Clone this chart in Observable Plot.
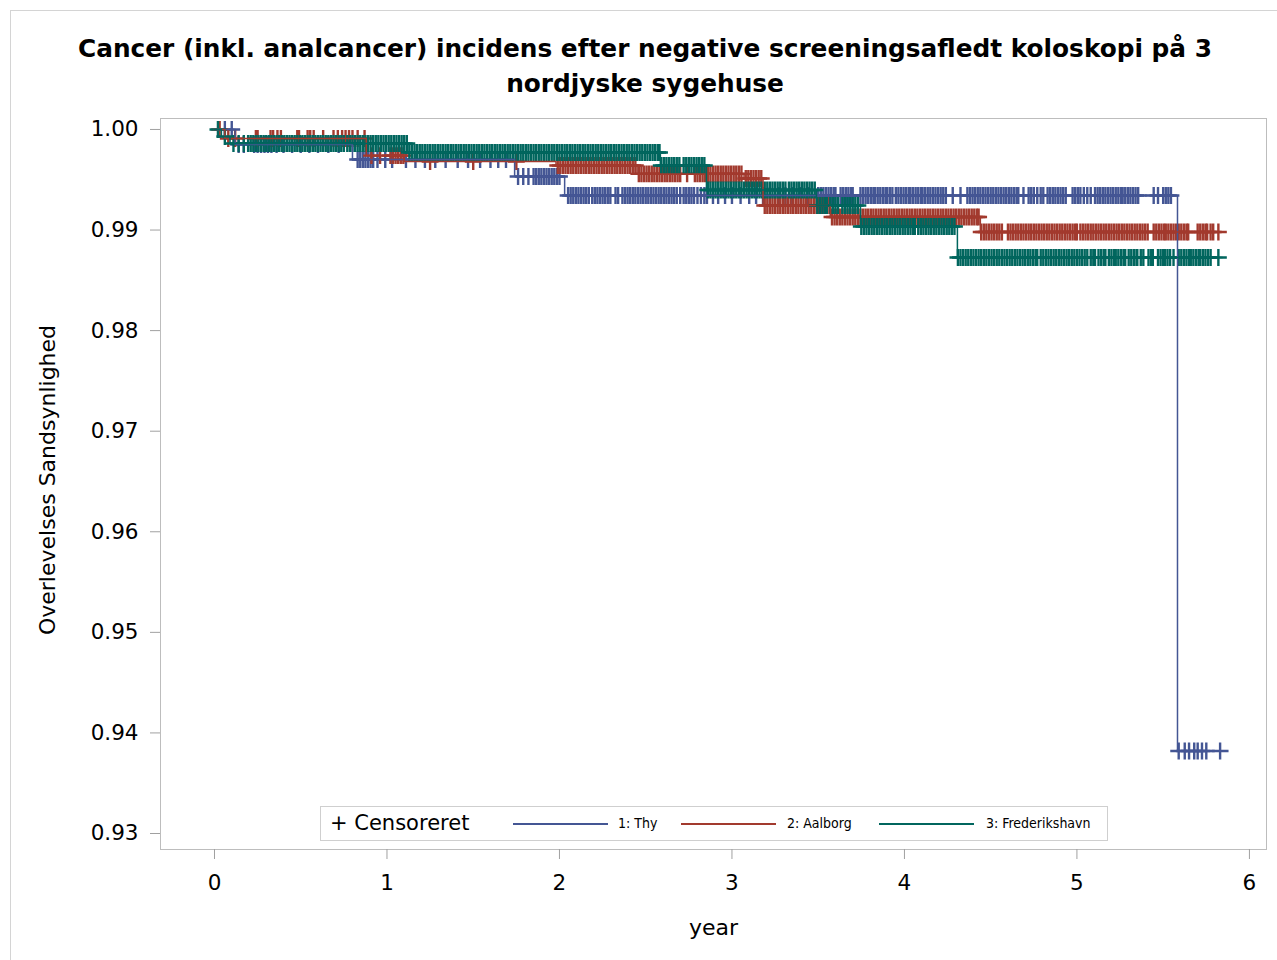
<!DOCTYPE html>
<html><head><meta charset="utf-8">
<script src="https://cdn.jsdelivr.net/npm/d3@7"></script>
<script src="https://cdn.jsdelivr.net/npm/@observablehq/plot@0.6"></script>
<style>
html,body{margin:0;padding:0;background:#fff;overflow:hidden}
#page{position:relative;width:1277px;height:960px;overflow:hidden;font-family:"DejaVu Sans",sans-serif;color:#000}
#border{position:absolute;left:10px;top:10px;width:1300px;height:1000px;border:1px solid #d4d4d4}
#title{position:absolute;left:10px;width:1270px;top:31px;text-align:center;font-weight:bold;font-size:24.8px;line-height:35px}
#chart{position:absolute;left:0;top:100px}
#legend{position:absolute;left:320px;top:806px;width:786px;height:33px;border:1px solid #cfcfcf;background:#fff}
#legend .cens{position:absolute;left:9px;top:0;line-height:33px;font-size:21px}
#legend .sw{position:absolute;top:16px;height:2px;width:95px}
#legend .lab{position:absolute;top:0;line-height:33px;font-size:14px;font-family:"DejaVu Sans Condensed","Liberation Sans Narrow","DejaVu Sans",sans-serif;font-stretch:condensed}
</style></head>
<body><div id="page"><div id="border"></div><div id="title"></div><div id="chart"></div><div id="legend"></div></div>
<script>
const titleText = "Cancer (inkl. analcancer) incidens efter negative screeningsafledt koloskopi på 3 nordjyske sygehuse";
const xLabel = "year";
const yLabel = "Overlevelses Sandsynlighed";
const censorLabel = "+ Censoreret";
const groups = ["1: Thy", "2: Aalborg", "3: Frederikshavn"];
const colors = ["#445694", "#A23A2E", "#01665E"];
const xTicks = [0, 1, 2, 3, 4, 5, 6];
const yTicks = [0.93, 0.94, 0.95, 0.96, 0.97, 0.98, 0.99, 1.00];

// Step (event) times and survival estimates
const thyTimes = [0, 0.12, 0.80, 1.74, 2.03, 5.583, 5.843];
const thyProb  = [1, 0.9985, 0.99702, 0.99532, 0.99344, 0.9382, 0.9382];
const aalTimes = [0, 0.06, 0.88, 1.10, 1.98, 2.45, 3.07, 3.18, 3.57, 4.44, 5.85];
const aalProb  = [1, 0.9991, 0.9974, 0.99682, 0.99642, 0.99558, 0.99513, 0.99244, 0.9913, 0.98981, 0.98981];
const freTimes = [0, 0.04, 0.09, 1.12, 2.585, 2.852, 3.49, 3.745, 4.307, 5.843];
const freProb  = [1, 0.9993, 0.99861, 0.99771, 0.99642, 0.99398, 0.99244, 0.99035, 0.98727, 0.98727];

// Censoring times
const thyCensor = [0.06, 0.10,
 0.14, 0.17, 0.23, 0.25, 0.27, 0.29, 0.31, 0.33, 0.36, 0.40, 0.45, 0.50, 0.55, 0.60, 0.66, 0.72,
 0.83, 0.845, 0.86, 0.875, 0.89, 0.905, 0.92, 0.945, 0.99, 1.03, 1.11, 1.165, 1.22, 1.28, 1.34, 1.41, 1.47, 1.54, 1.60, 1.645, 1.69,
 1.76, 1.79, 1.82, 1.85, 1.865, 1.88, 1.895, 1.91, 1.925, 1.94, 1.955, 1.97, 1.985, 2.00,
 2.05, 2.065, 2.08, 2.095, 2.11, 2.125, 2.14, 2.155, 2.17,
 2.19, 2.205, 2.22, 2.235, 2.25, 2.265, 2.28, 2.295,
 2.325, 2.34,
 2.365, 2.38, 2.395, 2.41, 2.425, 2.44, 2.455, 2.47, 2.485, 2.50, 2.515, 2.53, 2.545, 2.56, 2.575, 2.59, 2.605, 2.62, 2.635, 2.65, 2.665, 2.68, 2.70,
 2.72, 2.735, 2.75, 2.765, 2.78, 2.80,
 2.82, 2.84, 2.855,
 2.89, 2.92, 2.96, 3.00, 3.05, 3.10, 3.14, 3.18, 3.22, 3.27, 3.31, 3.35, 3.40, 3.44,
 3.50, 3.515, 3.53, 3.545, 3.56, 3.575, 3.59, 3.60,
 3.63, 3.645, 3.66, 3.675, 3.69, 3.70,
 3.745, 3.76, 3.775, 3.79, 3.805, 3.82, 3.83,
 3.845, 3.86, 3.875, 3.89,
 3.90, 3.915, 3.93,
 3.95, 3.965, 3.98, 3.995, 4.01, 4.025, 4.035,
 4.05, 4.065, 4.08, 4.095, 4.105,
 4.12, 4.135, 4.15, 4.165, 4.18, 4.195, 4.21, 4.225, 4.24,
 4.28, 4.325,
 4.365, 4.38, 4.395, 4.41, 4.425, 4.44, 4.455, 4.47, 4.485, 4.50, 4.515, 4.53, 4.545, 4.56, 4.575, 4.59, 4.605, 4.62, 4.635, 4.65, 4.66,
 4.69, 4.72, 4.735, 4.75, 4.77, 4.79, 4.805,
 4.83, 4.845, 4.86, 4.875, 4.89, 4.905, 4.92, 4.935,
 4.975, 4.99, 5.005, 5.02, 5.04,
 5.06, 5.08,
 5.105, 5.12, 5.135, 5.15, 5.165, 5.18,
 5.195, 5.21, 5.225, 5.24, 5.255, 5.265,
 5.28, 5.295, 5.31, 5.325, 5.34, 5.355,
 5.445, 5.47, 5.50, 5.515, 5.53, 5.545,
 5.59, 5.625, 5.65, 5.68, 5.70, 5.725, 5.75, 5.83];

const aalCensor = [0.03,
 0.08, 0.12, 0.24, 0.25, 0.325, 0.34, 0.365, 0.385, 0.48, 0.49, 0.54, 0.555, 0.575, 0.63, 0.69, 0.715, 0.74, 0.76, 0.78, 0.80, 0.83, 0.87,
 0.91, 0.96, 1.02, 1.035, 1.05, 1.065, 1.08, 1.095,
 1.25, 1.5, 1.75,
 1.99, 2.005, 2.02, 2.035, 2.05, 2.065, 2.08, 2.095, 2.11, 2.125, 2.14, 2.155, 2.17, 2.185, 2.20, 2.215, 2.23, 2.245, 2.26, 2.275, 2.29, 2.305, 2.32, 2.335, 2.35, 2.365, 2.38, 2.395, 2.41, 2.425, 2.44,
 2.46, 2.475, 2.49, 2.505, 2.52, 2.535, 2.55, 2.565, 2.58, 2.595, 2.61, 2.625, 2.64, 2.655, 2.67, 2.685, 2.70, 2.74, 2.785, 2.80, 2.815, 2.83, 2.845, 2.86, 2.875, 2.89, 2.905, 2.92, 2.935, 2.95, 2.965, 2.98, 2.995, 3.01, 3.025, 3.04, 3.055,
 3.08, 3.095, 3.11, 3.125, 3.14, 3.155, 3.17,
 3.19, 3.205, 3.22, 3.235, 3.25, 3.265, 3.28, 3.295, 3.31, 3.325, 3.34, 3.355, 3.37, 3.385, 3.40, 3.415, 3.43, 3.445, 3.46, 3.475, 3.49, 3.505, 3.52, 3.535, 3.55, 3.565,
 3.58, 3.595, 3.61, 3.625, 3.64, 3.655, 3.67, 3.685, 3.70, 3.715, 3.73, 3.745, 3.76, 3.775, 3.79, 3.805, 3.82, 3.835, 3.85, 3.865, 3.88, 3.895, 3.91, 3.925, 3.94, 3.955, 3.97, 3.985, 4.00, 4.015, 4.03, 4.045, 4.06, 4.075, 4.09, 4.105, 4.12, 4.135, 4.15, 4.165, 4.18, 4.195, 4.21, 4.225, 4.24, 4.255, 4.27, 4.285, 4.30, 4.315, 4.33, 4.345, 4.36, 4.375, 4.39, 4.405, 4.42, 4.43,
 4.445, 4.46, 4.475, 4.49, 4.505, 4.52, 4.535, 4.55, 4.565,
 4.60, 4.615, 4.63, 4.645, 4.66, 4.675, 4.69, 4.705, 4.72, 4.735, 4.75, 4.765, 4.78, 4.795, 4.81, 4.825, 4.84, 4.855, 4.87, 4.885, 4.90, 4.915, 4.93, 4.945, 4.96, 4.975, 4.99, 5.00,
 5.02, 5.035, 5.05, 5.065, 5.08, 5.095, 5.11, 5.125, 5.14, 5.155, 5.17, 5.185, 5.20, 5.215, 5.23, 5.245, 5.26, 5.275, 5.29, 5.305, 5.32, 5.335, 5.35, 5.365, 5.38, 5.395, 5.41,
 5.445, 5.46, 5.475, 5.49, 5.505, 5.515,
 5.53, 5.545, 5.56, 5.575, 5.59, 5.605, 5.62, 5.635, 5.645,
 5.70, 5.715, 5.73, 5.745, 5.755,
 5.775, 5.79,
 5.82];

const freCensor = [0.02, 0.06,
 0.11, 0.14, 0.17, 0.195, 0.21, 0.225, 0.24, 0.255, 0.27, 0.285, 0.30, 0.315, 0.33, 0.345, 0.36, 0.375, 0.39, 0.405, 0.42, 0.435, 0.45, 0.465, 0.48, 0.495, 0.51, 0.525, 0.54, 0.555, 0.57, 0.585, 0.60, 0.615, 0.63, 0.645, 0.66, 0.675, 0.69, 0.705, 0.72, 0.735, 0.75, 0.77, 0.785, 0.80, 0.815, 0.83, 0.845, 0.86, 0.875, 0.89, 0.905, 0.92, 0.935, 0.95, 0.965, 0.98, 0.995, 1.01, 1.025, 1.04, 1.055, 1.07, 1.085, 1.10, 1.115,
 1.13, 1.145, 1.16, 1.175, 1.19, 1.205, 1.22, 1.235, 1.25, 1.265, 1.28, 1.295, 1.31, 1.325, 1.34, 1.355, 1.37, 1.385, 1.40, 1.415, 1.43, 1.445, 1.46, 1.475, 1.49, 1.505, 1.52, 1.535, 1.55, 1.565, 1.58, 1.595, 1.61, 1.625, 1.64, 1.655, 1.67, 1.685, 1.70, 1.715, 1.73, 1.745, 1.76, 1.775, 1.79, 1.805, 1.82, 1.835, 1.85, 1.865, 1.88, 1.895, 1.91, 1.925, 1.94, 1.955, 1.97, 1.985, 2.00, 2.015, 2.03, 2.045, 2.06, 2.075, 2.09, 2.105, 2.12, 2.135, 2.15, 2.165, 2.18, 2.195, 2.21, 2.225, 2.24, 2.255, 2.27, 2.285, 2.30, 2.315, 2.33, 2.345, 2.36, 2.375, 2.39, 2.405, 2.42, 2.435, 2.45, 2.465, 2.48, 2.495, 2.51, 2.525, 2.54, 2.555, 2.57, 2.58,
 2.59, 2.605, 2.62, 2.635, 2.65, 2.665, 2.68, 2.695, 2.72, 2.735, 2.75, 2.765, 2.78, 2.795, 2.81, 2.825, 2.84,
 2.86, 2.875, 2.89, 2.905, 2.92, 2.935, 2.95, 2.965, 2.98, 2.995, 3.01, 3.025, 3.04, 3.055, 3.07, 3.085, 3.10, 3.115, 3.13, 3.145, 3.16, 3.175, 3.19, 3.205, 3.22, 3.235, 3.25, 3.265, 3.28, 3.295, 3.31, 3.33, 3.345, 3.36, 3.375, 3.39, 3.405, 3.42, 3.435, 3.45, 3.465, 3.48,
 3.495, 3.51, 3.525, 3.54, 3.55, 3.57, 3.585, 3.60, 3.615, 3.64, 3.655, 3.67, 3.685, 3.70, 3.715, 3.73,
 3.75, 3.765, 3.78, 3.795, 3.81, 3.825, 3.84, 3.855, 3.87, 3.885, 3.90, 3.915, 3.93, 3.945, 3.96, 3.975, 3.99, 4.005, 4.02, 4.035, 4.05, 4.06,
 4.08, 4.095, 4.11, 4.125, 4.14, 4.155, 4.17, 4.185, 4.20, 4.215, 4.23, 4.245, 4.26, 4.275, 4.29,
 4.31, 4.325, 4.34, 4.355, 4.37, 4.385, 4.40, 4.415, 4.43, 4.445, 4.46, 4.475, 4.49, 4.505, 4.52, 4.535, 4.55, 4.565, 4.58, 4.595, 4.61, 4.625, 4.64, 4.655, 4.67, 4.685, 4.70, 4.715, 4.73, 4.745, 4.76, 4.77,
 4.79, 4.805, 4.82, 4.835, 4.85, 4.865, 4.88, 4.895, 4.91, 4.925, 4.94, 4.955, 4.97, 4.985, 5.00, 5.015, 5.03, 5.045, 5.06,
 5.08, 5.095, 5.105, 5.125, 5.14, 5.155, 5.165, 5.185, 5.20, 5.215, 5.225, 5.24, 5.255, 5.27, 5.28, 5.30, 5.315, 5.33, 5.345, 5.35, 5.37, 5.385, 5.415, 5.43, 5.44, 5.47, 5.485, 5.50, 5.51, 5.525, 5.54, 5.56, 5.59, 5.605, 5.62, 5.635, 5.65, 5.66, 5.675, 5.69, 5.705, 5.715, 5.73, 5.745, 5.76, 5.775, 5.82];

const series = [
  {times: thyTimes, prob: thyProb, censor: thyCensor},
  {times: aalTimes, prob: aalProb, censor: aalCensor},
  {times: freTimes, prob: freProb, censor: freCensor}
];

function survAt(s, t) {
  let v = s.prob[0];
  for (let i = 0; i < s.times.length; i++) if (s.times[i] <= t) v = s.prob[i];
  return v;
}

const dotMarks = series.map((s, i) => Plot.dot(
  s.censor.map(t => ({t, s: survAt(s, t)})),
  {x: "t", y: "s", symbol: "plus", r: 5.5, stroke: colors[i], strokeWidth: 2.4}
));
const lineMarks = series.map((s, i) => Plot.line(
  s.times.map((t, j) => ({t, s: s.prob[j]})),
  {x: "t", y: "s", curve: "step-after", stroke: colors[i], strokeWidth: 1.5}
));

document.getElementById("title").textContent = titleText;

const chart = Plot.plot({
  width: 1277, height: 860,
  marginTop: 18, marginLeft: 160, marginRight: 11, marginBottom: 111,
  style: {fontFamily: "DejaVu Sans", fontSize: "21.5px", color: "#000", background: "transparent", overflow: "visible"},
  x: {domain: [-0.313, 6.099]},
  y: {domain: [0.92841, 1.00109]},
  marks: [
    Plot.frame({stroke: "#bdbdbd"}),
    Plot.axisX({ticks: xTicks, tickSize: 10, tickPadding: 15, stroke: "#a0a0a0", label: null, tickFormat: d3.format("d")}),
    Plot.axisY({ticks: yTicks, tickSize: 10, tickPadding: 12, stroke: "#a0a0a0", label: null, tickFormat: d3.format(".2f")}),
    ...dotMarks,
    ...lineMarks,
    Plot.text([xLabel], {text: d => d, frameAnchor: "bottom", dy: 85, fontSize: 22}),
    Plot.text([yLabel], {text: d => d, frameAnchor: "left", textAnchor: "middle", dx: -113, dy: -4, rotate: -90, fontSize: 22})
  ]
});
document.getElementById("chart").appendChild(chart);

// Legend
const legend = document.getElementById("legend");
const cens = document.createElement("div");
cens.className = "cens"; cens.textContent = censorLabel; legend.appendChild(cens);
const swLeft = [192, 360, 558];
const labLeft = [297, 466, 665];
groups.forEach((g, i) => {
  const sw = document.createElement("div");
  sw.className = "sw"; sw.style.left = swLeft[i] + "px"; sw.style.background = colors[i];
  legend.appendChild(sw);
  const lab = document.createElement("div");
  lab.className = "lab"; lab.style.left = labLeft[i] + "px"; lab.textContent = g;
  legend.appendChild(lab);
});
</script>
</body></html>
